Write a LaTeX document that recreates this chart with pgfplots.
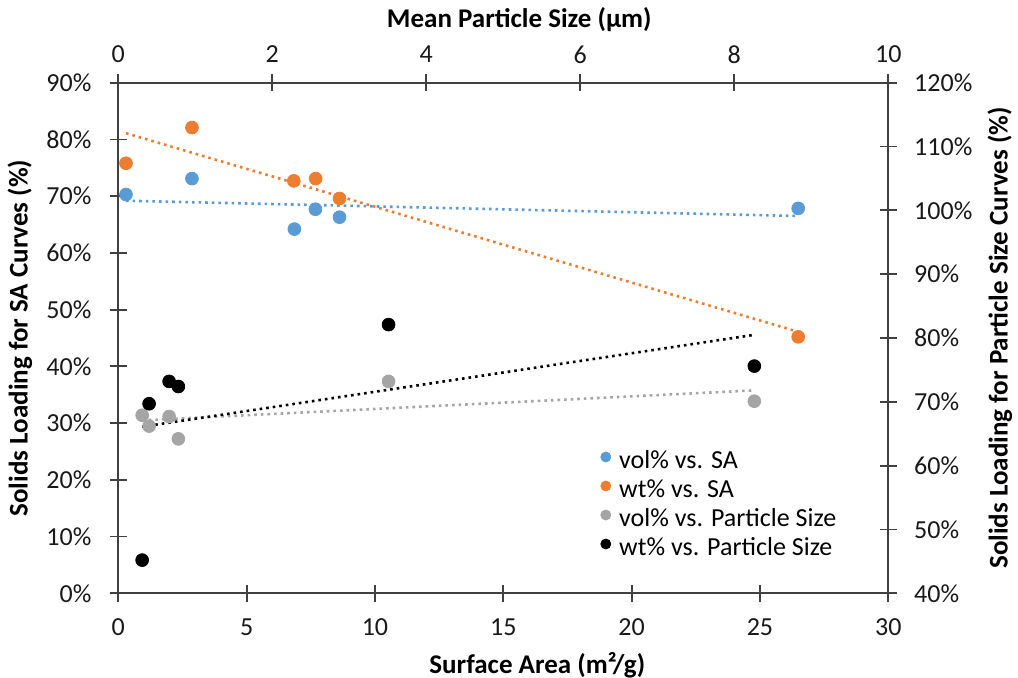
\documentclass[border=0pt]{standalone}
\usepackage{pgfplots}
\usepackage{pgfplotstable}
\pgfplotsset{compat=1.18}
\usepackage{fontspec}
\setmainfont{Carlito}
\definecolor{cblue}{HTML}{5B9BD5}
\definecolor{corange}{HTML}{ED7D31}
\definecolor{cgray}{HTML}{A5A5A5}
\definecolor{axisgray}{HTML}{404040}

\pgfplotstableread{
x y
0.30 70.3
2.87 73.1
6.86 64.2
7.68 67.7
8.62 66.3
26.49 67.85
}\volSA
\pgfplotstableread{
x y
0.30 75.8
2.87 82.1
6.84 72.7
7.69 73.1
8.62 69.6
26.49 45.2
}\wtSA
\pgfplotstableread{
x y
0.31 67.9
0.40 66.2
0.66 67.7
0.78 64.2
3.51 73.2
8.26 70.1
}\volPS
\pgfplotstableread{
x y
0.31 45.2
0.40 69.7
0.66 73.2
0.78 72.4
3.51 82.1
8.26 75.6
}\wtPS

\newcommand{\labfont}{\bfseries\fontsize{13.5}{16}\selectfont}
\pgfplotsset{
  common/.style={
    width=385pt, height=255.3pt, scale only axis,
    at={(0pt,0pt)}, anchor=south west,
    axis line style={axisgray, line width=0.9pt},
    major tick style={axisgray, line width=0.9pt},
    tick align=center, major tick length=8.5pt,
    tick label style={font=\fontsize{13}{15}\selectfont, text=black!90, inner sep=0pt},
  },
  trend/.style={line width=1.3pt, dash pattern=on 1.3pt off 2pt, forget plot},
  pts/.style={only marks, mark=*, mark size=3.2pt},
}

\begin{document}
\begin{tikzpicture}
\begin{axis}[common,
  xmin=0, xmax=30, ymin=0, ymax=90,
  axis x line*=bottom, axis y line*=left,
  xtick={0,5,10,15,20,25,30}, xticklabels={0,5,10,15,20,25,30},
  ytick={0,10,20,30,40,50,60,70,80,90},
  yticklabels={0\%,10\%,20\%,30\%,40\%,50\%,60\%,70\%,80\%,90\%},
  xticklabel style={anchor=center, yshift=-12.6pt},
  yticklabel style={anchor=east},
  yticklabel shift=9pt,
  xlabel={Surface Area (m²/g)},
  every axis x label/.style={at={(axis description cs:0.5442,-0.1404)}, anchor=center, inner sep=0pt, font=\labfont},
  ylabel={Solids Loading for SA Curves (\%)},
  every axis y label/.style={at={(axis description cs:-0.1277,0.5)}, anchor=center, rotate=90, inner sep=0pt, font=\labfont},
  legend style={at={(axis description cs:0.6256,0.2836)}, anchor=north west,
    draw=none, fill=none, inner sep=0pt, row sep=0pt, column sep=0pt,
    font=\fontsize{13}{15}\selectfont,
    nodes={inner sep=0pt, text height=10pt, text depth=4.5pt}},
  legend cell align=left,
  legend image code/.code={\fill (2.5pt,3.2pt) circle (2.5pt); \path (0pt,0pt) (9pt,0pt);},
]
\addplot[pts, color=cblue] table[x=x,y=y] {\volSA};
\addplot[pts, color=corange] table[x=x,y=y] {\wtSA};
\addlegendimage{only marks, mark=*, color=cgray}
\addlegendimage{only marks, mark=*, color=black}
\addplot[trend, cblue] coordinates {(0.30,69.2) (26.49,66.5)};
\addplot[trend, corange] coordinates {(0.30,81.1) (26.49,46.1)};
\legend{vol\% vs. SA, wt\% vs. SA, vol\% vs. Particle Size, wt\% vs. Particle Size}
\end{axis}
\begin{axis}[common,
  xmin=0, xmax=10, ymin=40, ymax=120,
  axis x line*=top, axis y line*=right,
  xtick={0,2,4,6,8,10}, xticklabels={0,2,4,6,8,10},
  ytick={40,50,60,70,80,90,100,110,120},
  yticklabels={40\%,50\%,60\%,70\%,80\%,90\%,100\%,110\%,120\%},
  xticklabel style={anchor=center, yshift=9.85pt},
  yticklabel style={anchor=west},
  yticklabel shift=8.5pt,
  xlabel={Mean Particle Size (μm)},
  every axis x label/.style={at={(axis description cs:0.5208,1.1228)}, anchor=center, inner sep=0pt, font=\labfont},
  ylabel={Solids Loading for Particle Size Curves (\%)},
  every axis y label/.style={at={(axis description cs:1.145,0.5)}, anchor=center, rotate=90, inner sep=0pt, font=\labfont},
]
\addplot[pts, color=cgray] table[x=x,y=y] {\volPS};
\addplot[pts, color=black] table[x=x,y=y] {\wtPS};
\addplot[trend, cgray] coordinates {(0.31,67.1) (8.26,71.8)};
\addplot[trend, black] coordinates {(0.31,66.1) (8.26,80.5)};
\end{axis}
\pgfresetboundingbox
\path[use as bounding box] (-59.15pt,-41.85pt) rectangle (449.85pt,296.65pt);
\end{tikzpicture}
\end{document}
